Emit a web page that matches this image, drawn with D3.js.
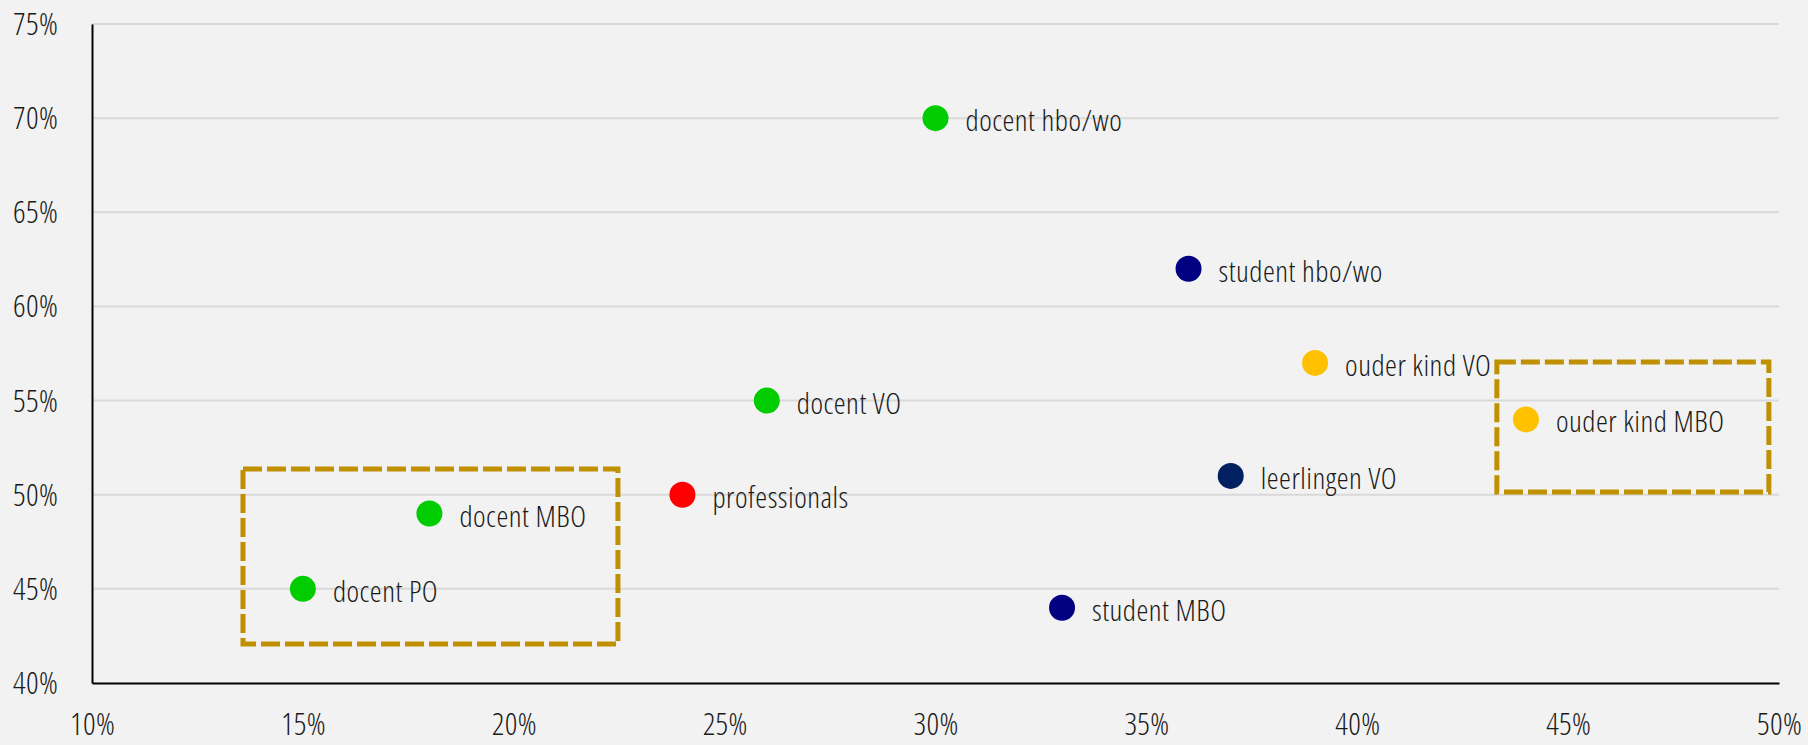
<!DOCTYPE html>
<html>
<head>
<meta charset="utf-8">
<script src="https://cdn.jsdelivr.net/npm/d3@7"></script>
<style>
  html, body { margin: 0; padding: 0; background: #F2F2F2; }
  svg { display: block; }
  text { font-family: "Open Sans", "Liberation Sans Narrow", sans-serif; font-stretch: 75%; font-weight: 300; fill: #1a1a1a; }
</style>
</head>
<body>
<svg id="chart" width="1808" height="745"></svg>
<script>
// Data
const labels = ["docent PO", "docent MBO", "professionals", "docent VO", "docent hbo/wo", "student MBO", "student hbo/wo", "leerlingen VO", "ouder kind VO", "ouder kind MBO"];
const xValues = [0.15, 0.18, 0.24, 0.26, 0.30, 0.33, 0.36, 0.37, 0.39, 0.44];
const yValues = [0.45, 0.49, 0.50, 0.55, 0.70, 0.44, 0.62, 0.51, 0.57, 0.54];
const pointColors = ["#00CC00", "#00CC00", "#FF0000", "#00CC00", "#00CC00", "#000080", "#000080", "#002060", "#FFC000", "#FFC000"];
const xTicks = [0.10, 0.15, 0.20, 0.25, 0.30, 0.35, 0.40, 0.45, 0.50];
const yTicks = [0.40, 0.45, 0.50, 0.55, 0.60, 0.65, 0.70, 0.75];
// highlight boxes in data space
const boxX0 = [0.1358, 0.4331];
const boxX1 = [0.2247, 0.4976];
const boxY0 = [0.4207, 0.5014];
const boxY1 = [0.5137, 0.5705];

const svg = d3.select("#chart");
const margin = { left: 92, right: 29, top: 24, bottom: 62 };
const W = 1808, H = 745;

const x = d3.scaleLinear().domain([0.10, 0.50]).range([margin.left, W - margin.right]);
const y = d3.scaleLinear().domain([0.40, 0.75]).range([H - margin.bottom, margin.top]);
const fmt = d3.format(".0%");

// gridlines
svg.append("g").selectAll("line")
  .data(yTicks.filter(d => d > 0.40))
  .join("line")
  .attr("x1", x(0.10)).attr("x2", x(0.50))
  .attr("y1", d => y(d)).attr("y2", d => y(d))
  .attr("stroke", "#D9D9D9").attr("stroke-width", 2);

// Y axis
const yAxis = svg.append("g")
  .attr("transform", `translate(${x(0.10)},0)`)
  .call(d3.axisLeft(y).tickValues(yTicks).tickFormat(fmt).tickSize(0).tickPadding(34));
yAxis.select(".domain").attr("stroke", "#000").attr("stroke-width", 2);
yAxis.selectAll("text").style("font-size", "31px").style("letter-spacing", "0.3px").attr("dy", "0.34em").attr("fill", "#1a1a1a");

// X axis
const xAxis = svg.append("g")
  .attr("transform", `translate(0,${y(0.40)})`)
  .call(d3.axisBottom(x).tickValues(xTicks).tickFormat(fmt).tickSize(0).tickPadding(30));
xAxis.select(".domain").attr("stroke", "#000").attr("stroke-width", 2);
xAxis.selectAll("text").style("font-size", "31px").style("letter-spacing", "0.3px").attr("dy", "0.71em").attr("fill", "#1a1a1a");

// boxes
svg.append("g").selectAll("rect")
  .data(d3.range(boxX0.length))
  .join("rect")
  .attr("x", i => x(boxX0[i]))
  .attr("y", i => y(boxY1[i]))
  .attr("width", i => x(boxX1[i]) - x(boxX0[i]))
  .attr("height", i => y(boxY0[i]) - y(boxY1[i]))
  .attr("fill", "none")
  .attr("stroke", "#BF9000")
  .attr("stroke-width", 5)
  .attr("stroke-dasharray", "19,5");

// points
const pts = svg.append("g").selectAll("g")
  .data(d3.range(labels.length))
  .join("g")
  .attr("transform", i => `translate(${x(xValues[i])},${y(yValues[i])})`);
pts.append("circle").attr("r", 13).attr("fill", i => pointColors[i]);
pts.append("text")
  .attr("x", 30).attr("y", 13)
  .style("font-size", "30px")
  .style("letter-spacing", "0.5px")
  .text(i => labels[i]);
</script>
</body>
</html>
